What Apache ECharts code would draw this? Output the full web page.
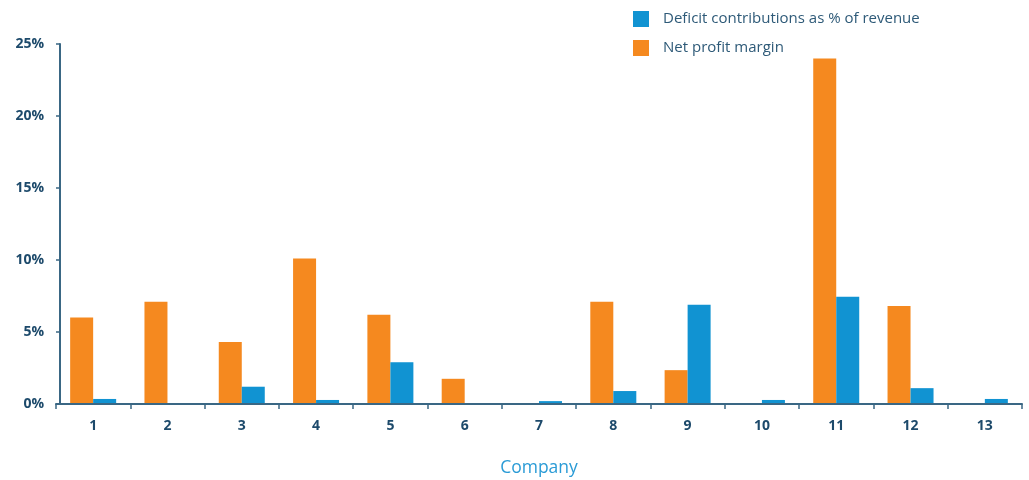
<!DOCTYPE html>
<html><head><meta charset="utf-8">
<script src="https://cdn.jsdelivr.net/npm/echarts@6/dist/echarts.min.js"></script>
<style>html,body{margin:0;padding:0;background:#fff}#c{width:1029px;height:480px}</style>
</head><body><div id="c"></div>
<script>
const categories = ['1','2','3','4','5','6','7','8','9','10','11','12','13'];
const netProfitMargin = [6.0, 7.1, 4.3, 10.1, 6.2, 1.75, 0, 7.1, 2.35, 0, 24.0, 6.8, 0];
const deficitContributions = [0.35, 0, 1.2, 0.28, 2.9, 0, 0.2, 0.9, 6.9, 0.28, 7.45, 1.1, 0.35];
const yTicks = [0, 5, 10, 15, 20, 25];

const chart = echarts.init(document.getElementById('c'));
const font = '"Open Sans", "Noto Sans", sans-serif';
const axisCol = '#3a6784';
const labelCol = '#1d4a6b';
chart.setOption({
  animation: false,
  textStyle: { fontFamily: font },
  grid: { left: 56, right: 7, top: 44, bottom: 76, containLabel: false, outerBoundsMode: 'none' },
  legend: {
    orient: 'vertical', left: 628, top: 6,
    itemWidth: 16, itemHeight: 16, itemGap: 13,
    icon: 'rect',
    data: ['Deficit contributions as % of revenue', 'Net profit margin'],
    textStyle: { color: '#2e5a78', fontSize: 15, fontFamily: font, padding: [0, 0, 0, 9] }
  },
  xAxis: {
    type: 'category', data: categories,
    name: 'Company', nameLocation: 'middle', nameGap: 55,
    nameTextStyle: { color: '#2a9bd6', fontSize: 17.5, fontFamily: font },
    z: 5,
    axisLine: { lineStyle: { color: axisCol, width: 2 } },
    axisTick: { show: true, length: 5, lineStyle: { color: axisCol, width: 1.5 } },
    axisLabel: { color: labelCol, fontSize: 14, fontWeight: 'bold', margin: 15, fontFamily: font }
  },
  yAxis: {
    type: 'value', min: yTicks[0], max: yTicks[yTicks.length - 1], interval: 5,
    offset: -4,
    axisLine: { show: true, lineStyle: { color: axisCol, width: 2 } },
    axisTick: { show: true, length: 4, lineStyle: { color: axisCol, width: 1.5 } },
    splitLine: { show: false },
    axisLabel: { color: labelCol, fontSize: 14, fontWeight: 'bold', margin: 16, fontFamily: font,
      formatter: v => v + '%' }
  },
  series: [
    { name: 'Net profit margin', type: 'bar', data: netProfitMargin, barWidth: 23, barGap: '0%',
      itemStyle: { color: '#f5891f' } },
    { name: 'Deficit contributions as % of revenue', type: 'bar', data: deficitContributions, barWidth: 23,
      itemStyle: { color: '#1193d2' } }
  ]
});
</script></body></html>
